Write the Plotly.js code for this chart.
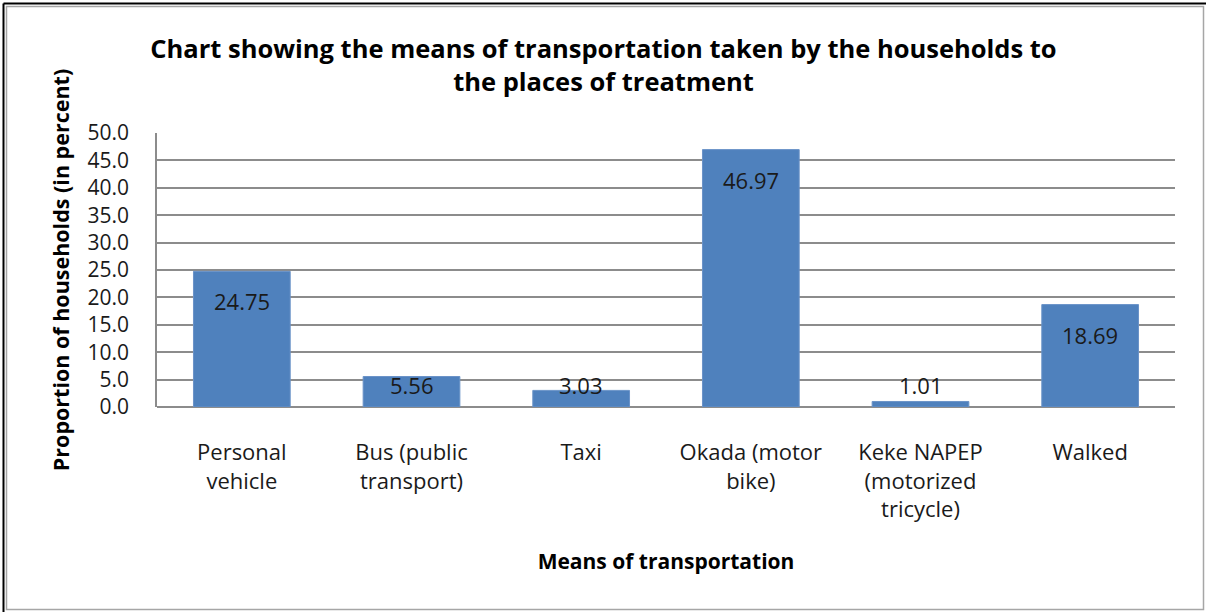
<!DOCTYPE html>
<html>
<head>
<meta charset="utf-8">
<script src="https://cdn.plot.ly/plotly-3.0.1.min.js"></script>
<style>html,body{margin:0;padding:0;background:#fff;}#chart{width:1207px;height:612px;}</style>
</head>
<body>
<div id="chart"></div>
<script>
var categories = ["Personal<br>vehicle", "Bus (public<br>transport)", "Taxi", "Okada (motor<br>bike)", "Keke NAPEP<br>(motorized<br>tricycle)", "Walked"];
var values = [24.75, 5.56, 3.03, 46.97, 1.01, 18.69];
var valueLabels = ["24.75", "5.56", "3.03", "46.97", "1.01", "18.69"];
var yTickVals = [0, 5, 10, 15, 20, 25, 30, 35, 40, 45, 50];
var yTickText = ["0.0", "5.0", "10.0", "15.0", "20.0", "25.0", "30.0", "35.0", "40.0", "45.0", "50.0"];

var W = 1207, H = 612;
var M = {l: 157, r: 32, t: 133, b: 205};
var plotW = W - M.l - M.r, plotH = H - M.t - M.b;
var yMax = 50;
var pxPerUnit = plotH / yMax;
function px2x(p) { return (p - M.l) / plotW; }
function py2y(p) { return (H - M.b - p) / plotH; }

var font = "'Open Sans', 'Noto Sans', sans-serif";

var annotations = values.map(function (v, i) {
  var barPx = v * pxPerUnit;
  var shift = (barPx - 30 >= 22) ? -30 : (22 - barPx);
  return {
    x: categories[i], y: v, xref: 'x', yref: 'y',
    text: valueLabels[i], showarrow: false,
    yanchor: 'middle', xanchor: 'center', yshift: shift,
    font: {family: font, size: 22, color: '#1a1a1a'}
  };
});

var shapes = [
  {type: 'rect', xref: 'paper', yref: 'paper', x0: px2x(6.5), x1: px2x(1203.5), y0: py2y(609.5), y1: py2y(6.5), line: {color: '#a6a6a6', width: 1.5}, layer: 'below'},
  {type: 'line', xref: 'paper', yref: 'paper', x0: px2x(3.5), x1: px2x(1206), y0: py2y(3.5), y1: py2y(3.5), line: {color: '#000', width: 2}},
  {type: 'line', xref: 'paper', yref: 'paper', x0: px2x(3.5), x1: px2x(3.5), y0: py2y(3.5), y1: py2y(612), line: {color: '#000', width: 2}}
];

var trace = {
  type: 'bar', x: categories, y: values,
  marker: {color: '#4f81bd', line: {color: '#6a93c8', width: 1}},
  hoverinfo: 'x+y'
};

var layout = {
  width: W, height: H,
  margin: M,
  paper_bgcolor: '#fff', plot_bgcolor: '#fff',
  showlegend: false,
  bargap: 0.43,
  title: {
    text: "<b>Chart showing the means of transportation taken by the households to<br>the places of treatment</b>",
    font: {family: font, size: 25.5, color: '#000'},
    x: 0.5, xref: 'container', xanchor: 'center',
    y: 1 - 58 / H, yref: 'container', yanchor: 'middle'
  },
  xaxis: {
    type: 'category',
    showgrid: false, showline: false, zeroline: false,
    ticks: '', ticklabelstandoff: 30,
    tickfont: {family: font, size: 22, color: '#1a1a1a'},
    title: {text: "<b>Means of transportation</b>", font: {family: font, size: 21, color: '#000'}, standoff: 32}
  },
  yaxis: {
    range: [0, yMax], tickvals: yTickVals, ticktext: yTickText,
    showgrid: true, gridcolor: '#8c8c8c', gridwidth: 1.5,
    showline: true, linecolor: '#8c8c8c', linewidth: 1.5,
    zeroline: true, zerolinecolor: '#8c8c8c', zerolinewidth: 1.5,
    ticks: '', ticklabelstandoff: 22,
    tickfont: {family: font, size: 21, color: '#1a1a1a'},
    title: {text: "<b>Proportion of households (in percent)</b>", font: {family: font, size: 21.5, color: '#000'}, standoff: 12}
  },
  annotations: annotations,
  shapes: shapes
};

Plotly.newPlot('chart', [trace], layout, {displayModeBar: false, responsive: false});
</script>
</body>
</html>
